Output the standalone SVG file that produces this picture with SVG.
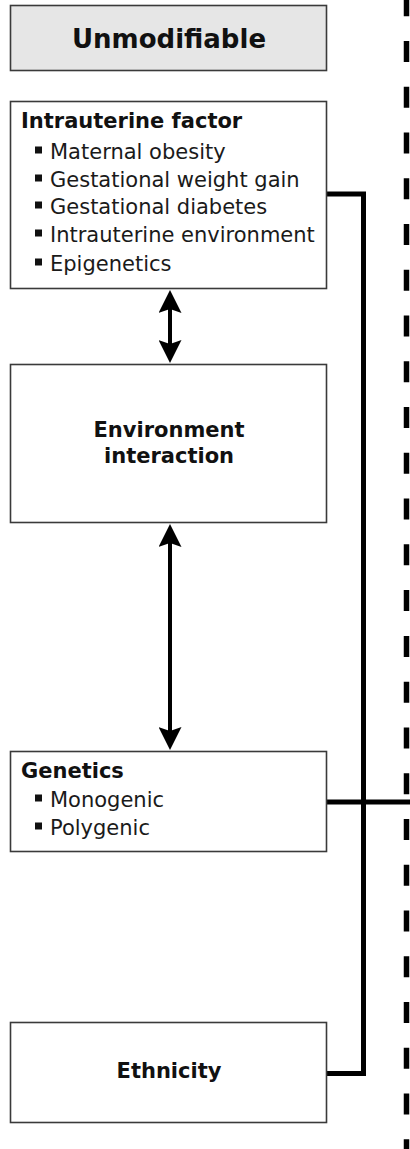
<svg xmlns="http://www.w3.org/2000/svg" width="410" height="1149" viewBox="0 0 410 1149">
<style>
.box{fill:#fff;stroke:#3a3a3a;stroke-width:1.6}
.hdr{fill:#e6e6e6;stroke:#3a3a3a;stroke-width:1.6}
.t{font-family:"DejaVu Sans",Verdana,sans-serif;font-size:21px;fill:#1a1a1a}
.b{font-weight:bold;fill:#111}
.c{text-anchor:middle}
.bul{fill:#111}
.con{fill:none;stroke:#000;stroke-width:5;stroke-linejoin:miter}
.arr{fill:none;stroke:#000;stroke-width:4}
.dash{fill:none;stroke:#000;stroke-width:5.5;stroke-dasharray:21 24.76}
</style>
<defs>
<marker id="ah" viewBox="0 0 23 23" refX="13" refY="11.5" markerWidth="23" markerHeight="23" markerUnits="userSpaceOnUse" orient="auto-start-reverse">
<path d="M0,0 L23,11.5 L0,23 L4,11.5 z" fill="#000"/>
</marker>
</defs>
<g id="connectors">
<line class="dash" x1="406.5" y1="-4.76" x2="406.5" y2="1149"/>
<path class="con" d="M327,194 H363.5 V1073.5 H327"/>
<path class="con" d="M327,802 H410"/>
<line class="arr" x1="170" y1="300" x2="170" y2="353" marker-start="url(#ah)" marker-end="url(#ah)"/>
<line class="arr" x1="170" y1="534" x2="170" y2="740" marker-start="url(#ah)" marker-end="url(#ah)"/>
</g>
<g id="unmodifiable">
<rect class="hdr" x="10.5" y="5.5" width="316" height="65"/>
<text class="t b c" x="169" y="48" style="font-size:26px">Unmodifiable</text>
</g>
<g id="intrauterine">
<rect class="box" x="10.5" y="101.5" width="316" height="187"/>
<text class="t b" x="21" y="128">Intrauterine factor</text>
<rect class="bul" x="35" y="146.5" width="7" height="7"/>
<text class="t" x="50" y="159">Maternal obesity</text>
<rect class="bul" x="35" y="174.5" width="7" height="7"/>
<text class="t" x="50" y="187">Gestational weight gain</text>
<rect class="bul" x="35" y="201.5" width="7" height="7"/>
<text class="t" x="50" y="214">Gestational diabetes</text>
<rect class="bul" x="35" y="229.5" width="7" height="7"/>
<text class="t" x="50" y="242">Intrauterine environment</text>
<rect class="bul" x="35" y="258.5" width="7" height="7"/>
<text class="t" x="50" y="271">Epigenetics</text>
</g>
<g id="environment">
<rect class="box" x="10.5" y="364.5" width="316" height="158"/>
<text class="t b c" x="169" y="437">Environment</text>
<text class="t b c" x="169" y="463">interaction</text>
</g>
<g id="genetics">
<rect class="box" x="10.5" y="751.5" width="316" height="100"/>
<text class="t b" x="21" y="778">Genetics</text>
<rect class="bul" x="35" y="794.5" width="7" height="7"/>
<text class="t" x="50" y="807">Monogenic</text>
<rect class="bul" x="35" y="822.5" width="7" height="7"/>
<text class="t" x="50" y="835">Polygenic</text>
</g>
<g id="ethnicity">
<rect class="box" x="10.5" y="1022.5" width="316" height="100"/>
<text class="t b c" x="169" y="1078">Ethnicity</text>
</g>
</svg>
